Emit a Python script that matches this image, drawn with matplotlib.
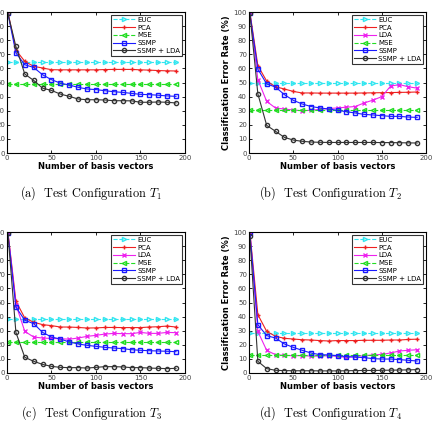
import matplotlib.pyplot as plt
import numpy as np

plt.rcParams["mathtext.fontset"] = "cm"

n_basis = [1, 10, 20, 30, 40, 50, 60, 70, 80, 90, 100,
           110, 120, 130, 140, 150, 160, 170, 180, 190]

# (a) T1
t1_euc = 64.5
t1_mse = 48.7
t1_pca = [100, 73, 65, 61.5, 60.3, 59.1, 59, 59, 59, 59, 59,
          59.2, 59.3, 59.3, 59.3, 59, 58.8, 58.5, 58.3, 58.2]
t1_ssmp = [99, 71, 62.6, 60.7, 55.5, 52, 49.6, 48.2, 46.6, 45.4, 45,
           44.2, 43.5, 43, 42.3, 41.6, 41.4, 41, 40.5, 40.2]
t1_ssmp_lda = [99, 75.6, 56, 51.5, 46, 44.4, 41.8, 40.2, 38.3, 37.8, 37.8,
               37.6, 37.1, 37.1, 37, 36, 36, 36.2, 36, 35.5]

# (b) T2
t2_euc = 49.5
t2_mse = 30.3
t2_pca = [100, 62, 51, 47, 45.4, 43.7, 42.6, 42.6, 42.5, 42.5, 42.5,
          42.5, 42.5, 42.6, 42.7, 42.8, 42.9, 43, 43.1, 43.3]
t2_lda = [100, 52, 36.6, 31.9, 31.2, 30.5, 30, 30.3, 31, 31.5, 32,
          32.5, 33, 35.5, 37.5, 40, 47.5, 48.5, 47, 46]
t2_ssmp = [99, 59.5, 49, 46.8, 41.4, 37.4, 34.8, 33, 32, 31.2, 30.3,
           29.3, 28.4, 27.4, 27, 26.5, 26, 26, 25.5, 25.3]
t2_ssmp_lda = [99, 42, 19.6, 15.4, 11.1, 9.2, 8.3, 7.8, 7.6, 7.5, 7.5,
               7.5, 7.5, 7.5, 7.5, 7.4, 7.4, 7.3, 7.2, 7.1]

# (c) T3
t3_euc = 38.5
t3_mse = 21.7
t3_pca = [100, 51, 39, 36, 34.3, 33.6, 32.6, 32.6, 32.3, 31.9, 32,
          32.3, 32.3, 32.2, 32.2, 32.2, 32.6, 32.8, 33.3, 32.6]
t3_lda = [100, 48.5, 29.5, 25.5, 24.8, 24.5, 24.3, 24, 24.8, 26, 26.7,
          27.6, 28.1, 27.9, 27.9, 28.8, 28.1, 28.1, 28.8, 28.6]
t3_ssmp = [99, 46.8, 37.4, 35, 28.8, 25.5, 24.1, 22, 20.6, 19.6, 18.9,
           18.2, 17.7, 17.3, 16.5, 16.1, 15.8, 15.6, 15.4, 15.1]
t3_ssmp_lda = [99, 28.8, 11.1, 8.3, 6.1, 4.7, 4, 3.8, 3.8, 3.5, 4,
               4.5, 4.5, 4.3, 3.8, 3.8, 3.5, 3.3, 3.1, 3.3]

# (d) T4
t4_euc = 28.4
t4_mse = 12.5
t4_pca = [100, 41.4, 29.5, 26, 24.6, 24.1, 23.6, 23.4, 23, 22.7, 23,
          23, 23, 23.2, 23.2, 23.2, 23.4, 23.4, 23.8, 24]
t4_lda = [100, 29.5, 16, 13, 12.5, 12.3, 12.3, 12, 12, 12.3, 11.8,
          11, 11.8, 12.3, 12.8, 13.2, 14.2, 15.6, 16.1, 16.5]
t4_ssmp = [99, 34.3, 26.5, 24.8, 20.6, 18.2, 16.1, 14.2, 13, 12.8, 12.3,
           11.6, 11.3, 10.9, 10.2, 9.9, 9.9, 9.5, 9, 8.5]
t4_ssmp_lda = [97, 8.3, 3.1, 1.9, 1.7, 1.6, 1.6, 1.6, 1.5, 1.5, 1.5,
               1.6, 1.7, 1.8, 1.8, 1.9, 2, 2.1, 2.2, 2.4]

panels = [
    ("(a)", "T_1", t1_euc, t1_pca, None, t1_mse, t1_ssmp, t1_ssmp_lda),
    ("(b)", "T_2", t2_euc, t2_pca, t2_lda, t2_mse, t2_ssmp, t2_ssmp_lda),
    ("(c)", "T_3", t3_euc, t3_pca, t3_lda, t3_mse, t3_ssmp, t3_ssmp_lda),
    ("(d)", "T_4", t4_euc, t4_pca, t4_lda, t4_mse, t4_ssmp, t4_ssmp_lda),
]

# left panels are cropped in the source figure, so their y labels fall off the edge
positions = [
    [0.0161, 0.653, 0.409, 0.3197],
    [0.5724, 0.653, 0.407, 0.3197],
    [0.0161, 0.1542, 0.409, 0.3197],
    [0.5724, 0.1542, 0.407, 0.3197],
]
caption_xy = [(0.21, 0.562), (0.76, 0.562), (0.21, 0.063), (0.76, 0.063)]

fig = plt.figure(figsize=(4.35, 4.41), dpi=100)
x = np.array(n_basis)
lw = 0.8
ms = 3

for i, (tag, sub, euc, pca, lda, mse, ssmp, ssmp_lda) in enumerate(panels):
    ax = fig.add_axes(positions[i])
    ax.plot(x, [euc] * len(x), "--", color="#33e6f0", marker=">", ms=ms,
            mfc="none", lw=lw, label="EUC")
    ax.plot(x, pca, "-", color="#ee2020", marker="+", ms=ms, lw=lw, label="PCA")
    if lda is not None:
        ax.plot(x, lda, "-", color="#ee22ee", marker="x", ms=2.5, lw=lw, label="LDA")
    ax.plot(x, [mse] * len(x), "--", color="#22dd22", marker="<", ms=ms,
            mfc="none", lw=lw, label="MSE")
    ax.plot(x, ssmp, "-", color="#1a1aff", marker="s", ms=ms, mfc="none",
            lw=lw, label="SSMP")
    ax.plot(x, ssmp_lda, "-", color="#333333", marker="o", ms=ms, mfc="none",
            lw=lw, label="SSMP + LDA")

    ax.set_xlim(0, 200)
    ax.set_ylim(0, 100)
    ax.set_xticks([0, 50, 100, 150, 200])
    ax.set_yticks(range(0, 101, 10))
    ax.tick_params(direction="in", labelsize=5, length=2, width=0.6,
                   labelcolor="#444444", top=True, right=True, pad=1.5)
    for s in ax.spines.values():
        s.set_linewidth(0.8)
    ax.set_xlabel("Number of basis vectors", fontsize=6, fontweight="bold", labelpad=1)
    ax.set_ylabel("Classification Error Rate (%)", fontsize=6, fontweight="bold", labelpad=2)

    leg = ax.legend(loc="upper right", fontsize=5, frameon=True, fancybox=False,
                    numpoints=1, borderpad=0.3, labelspacing=0.25, handlelength=3.2,
                    handletextpad=0.3, borderaxespad=0.4)
    leg.get_frame().set_edgecolor("black")
    leg.get_frame().set_linewidth(0.8)

    cx, cy = caption_xy[i]
    fig.text(cx, cy, tag + "  Test Configuration $" + sub + "$", ha="center",
             va="center", fontsize=8.8, family="cmr10")

fig.savefig("out.png", dpi=100)
